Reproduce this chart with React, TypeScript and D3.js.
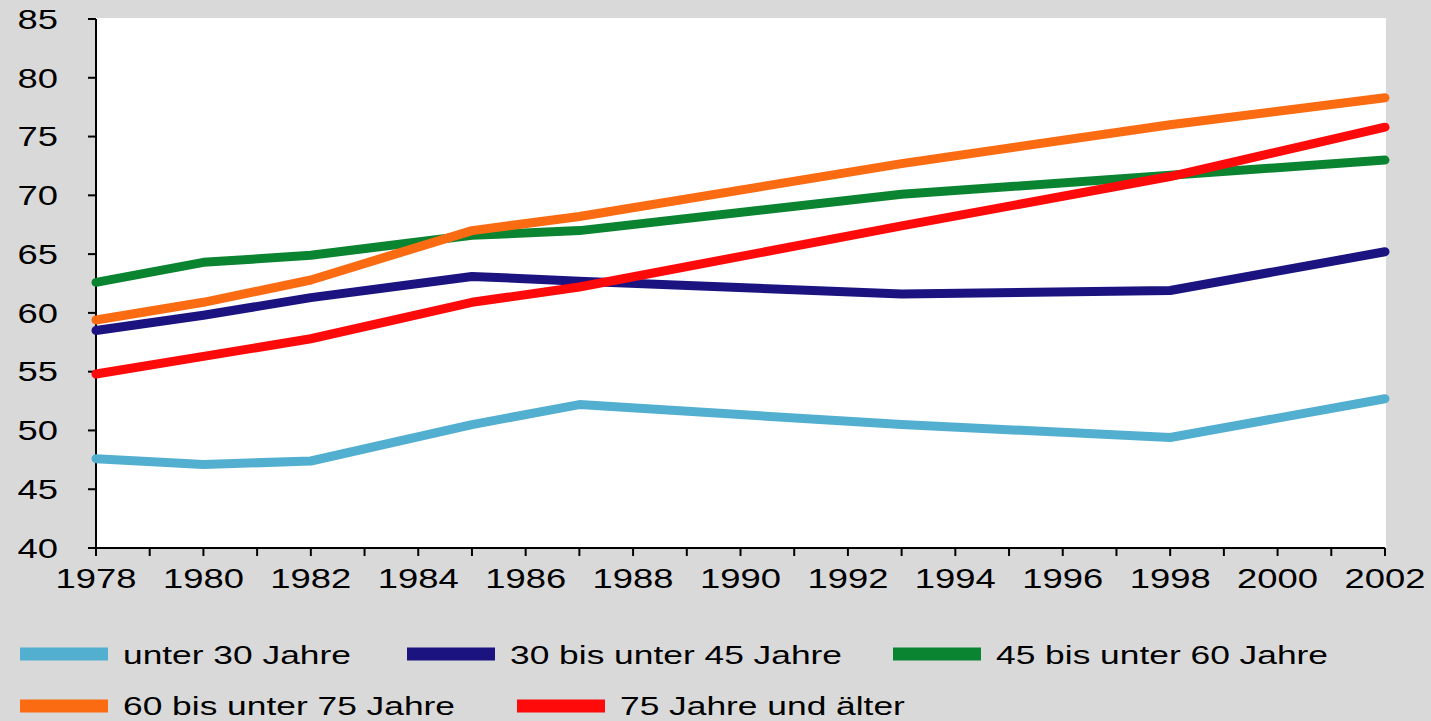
import React, { useRef, useEffect } from 'react';
import * as d3 from 'd3';

const years = [1978, 1980, 1982, 1985, 1987, 1993, 1998, 2002];

const unter30 = [47.6, 47.1, 47.4, 50.5, 52.2, 50.5, 49.4, 52.7];
const von30bis45 = [58.5, 59.8, 61.3, 63.1, 62.7, 61.6, 61.9, 65.2];
const von45bis60 = [62.6, 64.3, 64.9, 66.6, 67.0, 70.1, 71.7, 73.0];
const von60bis75 = [59.4, 60.9, 62.8, 67.0, 68.2, 72.7, 76.0, 78.3];
const ab75 = [54.8, 56.3, 57.8, 60.9, 62.2, 67.4, 71.6, 75.8];

const seriesNames = [
  'unter 30 Jahre',
  '30 bis unter 45 Jahre',
  '45 bis unter 60 Jahre',
  '60 bis unter 75 Jahre',
  '75 Jahre und älter',
];
const seriesValues = [unter30, von30bis45, von45bis60, von60bis75, ab75];
const seriesColors = ['#53afd0', '#1b1480', '#0b8432', '#fa6b12', '#fe0a0a'];

const yTicks = [40, 45, 50, 55, 60, 65, 70, 75, 80, 85];

// legend slots: swatch left edge and row
const legendSlots = [
  { x: 20, row: 0 },
  { x: 407, row: 0 },
  { x: 893, row: 0 },
  { x: 20, row: 1 },
  { x: 517, row: 1 },
];

const W = 1431;
const H = 721;
const FONT = '"Liberation Sans", Arial, Helvetica, sans-serif';
const STRETCH = 1.3;
const LEGEND_STRETCH = 1.36;

const App = () => {
  const chartRef = useRef(null);

  useEffect(() => {
    const margin = { top: 19, right: 46, bottom: 173, left: 96 };
    const width = W - margin.left - margin.right;
    const height = H - margin.top - margin.bottom;

    d3.select(chartRef.current).select('svg').remove();
    const root = d3
      .select(chartRef.current)
      .append('svg')
      .attr('width', W)
      .attr('height', H)
      .style('position', 'absolute')
      .style('left', 0)
      .style('top', 0);

    root.append('rect').attr('width', W).attr('height', H).attr('fill', '#d9d9d9');

    const svg = root.append('g').attr('transform', `translate(${margin.left},${margin.top})`);

    const x = d3.scaleLinear().domain([1978, 2002]).range([0, width]);
    const y = d3.scaleLinear().domain([40, 85]).range([height, 0]);

    svg.append('rect').attr('x', 0).attr('y', -1).attr('width', width + 1).attr('height', height + 1).attr('fill', '#ffffff');

    // y axis
    svg.append('line').attr('x1', 0).attr('x2', 0).attr('y1', 0).attr('y2', height).attr('stroke', '#000').attr('stroke-width', 2);
    const yg = svg.selectAll('.ytick').data(yTicks).enter().append('g').attr('transform', d => `translate(0,${y(d)})`);
    yg.append('line').attr('x1', -8).attr('x2', 0).attr('stroke', '#000').attr('stroke-width', 2);
    yg.append('g')
      .attr('transform', `translate(-38,0) scale(${STRETCH},1)`)
      .append('text')
      .attr('text-anchor', 'end')
      .attr('dy', '0.35em')
      .style('font-family', FONT)
      .style('font-size', 28)
      .style('fill', '#000')
      .text(d => d);

    // x axis
    svg.append('line').attr('x1', 0).attr('x2', width).attr('y1', height).attr('y2', height).attr('stroke', '#000').attr('stroke-width', 2);
    const allYears = d3.range(1978, 2003);
    svg.selectAll('.xtick').data(allYears).enter().append('line')
      .attr('x1', d => x(d)).attr('x2', d => x(d))
      .attr('y1', height).attr('y2', height + 8)
      .attr('stroke', '#000').attr('stroke-width', 2);
    svg.selectAll('.xlabel').data(allYears.filter(d => d % 2 === 0)).enter().append('g')
      .attr('transform', d => `translate(${x(d)},${height + 40}) scale(${STRETCH},1)`)
      .append('text')
      .attr('text-anchor', 'middle')
      .style('font-family', FONT)
      .style('font-size', 28)
      .style('fill', '#000')
      .text(d => d);

    // lines
    const line = d3.line<number>().x((_, i) => x(years[i])).y(d => y(d));
    seriesValues.forEach((vals, k) => {
      svg.append('path')
        .attr('d', line(vals))
        .attr('fill', 'none')
        .attr('stroke', seriesColors[k])
        .attr('stroke-width', 9)
        .attr('stroke-linecap', 'round')
        .attr('stroke-linejoin', 'round');
    });

    // legend
    const rowY = [654, 706];
    legendSlots.forEach((s, k) => {
      root.append('line')
        .attr('x1', s.x).attr('x2', s.x + 88)
        .attr('y1', rowY[s.row]).attr('y2', rowY[s.row])
        .attr('stroke', seriesColors[k]).attr('stroke-width', 13);
      root.append('g')
        .attr('transform', `translate(${s.x + 103},${rowY[s.row] + (s.row ? 9 : 10)}) scale(${LEGEND_STRETCH},1)`)
        .append('text')
        .style('font-family', FONT)
        .style('font-size', 26)
        .style('fill', '#000')
        .text(seriesNames[k]);
    });
  }, []);

  return <div ref={chartRef} className="line-chart"></div>;
};

export default App;
